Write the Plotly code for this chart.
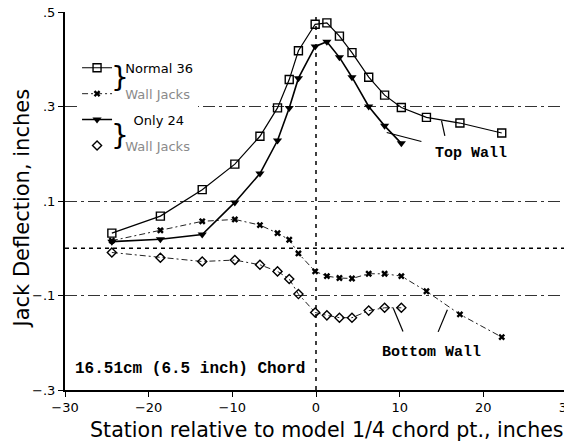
import plotly.graph_objects as go

# ---------------- data ----------------
stations = [-24.4, -18.6, -13.6, -9.7, -6.7, -4.6, -3.2, -2.1, -0.1, 1.3, 2.8,
            4.3, 6.3, 8.2, 10.2, 13.2, 17.2, 22.2]
stations_24 = stations[:15]

normal36_top = [0.032, 0.068, 0.124, 0.178, 0.237, 0.297, 0.357, 0.418, 0.474,
                0.477, 0.449, 0.414, 0.362, 0.324, 0.298, 0.277, 0.265, 0.244]
normal36_bottom = [0.016, 0.038, 0.057, 0.061, 0.049, 0.032, 0.018, -0.011, -0.049,
                   -0.059, -0.063, -0.064, -0.054, -0.054, -0.059, -0.091, -0.140, -0.188]
only24_top = [0.014, 0.019, 0.029, 0.097, 0.158, 0.228, 0.297, 0.360, 0.427,
              0.437, 0.404, 0.362, 0.300, 0.259, 0.222]
only24_bottom = [-0.009, -0.020, -0.028, -0.025, -0.035, -0.049, -0.065, -0.097, -0.136,
                 -0.142, -0.147, -0.147, -0.132, -0.126, -0.126]

x_ticks = [-30, -20, -10, 0, 10, 20, 30]
x_ticktext = ["\u221230", "\u221220", "\u221210", "0", "10", "20", "30"]
y_ticks = [-0.3, -0.1, 0.1, 0.3, 0.5]
y_ticktext = ["\u2212.3", "\u2212.1", ".1", ".3", ".5"]

# callout leader lines (x0, y0, x1, y1) in data units
top_wall_leaders = [(8.45, 0.245, 12.6, 0.226), (15.0, 0.270, 15.4, 0.238)]
bottom_wall_leaders = [(9.24, -0.127, 10.4, -0.176), (15.7, -0.130, 14.6, -0.177)]

SANS = "DejaVu Sans"
MONO = "Liberation Mono"
GRAY = "#8a8a8a"

fig = go.Figure()

fig.add_trace(go.Scatter(
    x=stations, y=normal36_top, mode="lines+markers",
    name="\u00a0\u00a0Normal 36", legendgroup="a",
    line=dict(color="black", width=1.2),
    marker=dict(symbol="square-open", size=8, color="black", line=dict(width=1.4)),
))
fig.add_trace(go.Scatter(
    x=stations, y=normal36_bottom, mode="lines+markers",
    name=f"\u00a0\u00a0<span style='color:{GRAY}'>Wall Jacks</span>", legendgroup="b",
    line=dict(color="#222", width=1, dash="6px,3px,2px,3px"),
    marker=dict(symbol="x", size=6, color="black"),
))
fig.add_trace(go.Scatter(
    x=stations_24, y=only24_top, mode="lines+markers",
    name="\u00a0\u00a0\u00a0\u00a0Only 24", legendgroup="c",
    line=dict(color="black", width=1.6),
    marker=dict(symbol="triangle-down", size=8, color="black"),
))
fig.add_trace(go.Scatter(
    x=stations_24, y=only24_bottom, mode="lines",
    showlegend=False, legendgroup="d",
    line=dict(color="#222", width=1, dash="6px,3px,2px,3px"),
))
fig.add_trace(go.Scatter(
    x=stations_24, y=only24_bottom, mode="markers",
    name=f"\u00a0\u00a0<span style='color:{GRAY}'>Wall Jacks</span>", legendgroup="d",
    marker=dict(symbol="diamond-open", size=7, color="black", line=dict(width=1.4)),
))

# reference lines at zero
fig.add_hline(y=0, line=dict(color="black", width=1.5, dash="4px,4px"), layer="below")
fig.add_vline(x=0, line=dict(color="black", width=1.5, dash="4px,5px"), layer="below")
# right frame
fig.add_shape(type="line", xref="paper", yref="paper", x0=1, x1=1, y0=0, y1=1,
              line=dict(color="black", width=1))

for (x0, y0, x1, y1) in top_wall_leaders + bottom_wall_leaders:
    fig.add_shape(type="line", x0=x0, y0=y0, x1=x1, y1=y1,
                  line=dict(color="black", width=1.2))

fig.add_annotation(x=18.5, y=0.20, text="<b>Top Wall</b>", showarrow=False,
                   xanchor="center", yanchor="middle",
                   font=dict(family=MONO, size=15, color="black"))
fig.add_annotation(x=13.8, y=-0.221, text="<b>Bottom Wall</b>", showarrow=False,
                   xanchor="center", yanchor="middle",
                   font=dict(family=MONO, size=15, color="black"))
fig.add_annotation(x=-15.05, y=-0.256, text="<b>16.51cm (6.5 inch) Chord</b>", showarrow=False,
                   xanchor="center", yanchor="middle",
                   font=dict(family=MONO, size=16, color="black"))

# legend braces
for yb in (0.826, 0.672):
    fig.add_annotation(xref="paper", yref="paper", x=0.109, y=yb, text="}",
                       xanchor="center", yanchor="middle",
                       showarrow=False, font=dict(family=SANS, size=28, color="black"))

# axis titles
fig.add_annotation(xref="paper", yref="paper", x=0.522, y=-0.105,
                   xanchor="center", yanchor="middle",
                   text="Station relative to model 1/4 chord pt., inches",
                   showarrow=False, font=dict(family=SANS, size=20.6, color="black"))
fig.add_annotation(xref="paper", yref="paper", x=-0.0857, y=0.48, textangle=-90,
                   xanchor="center", yanchor="middle",
                   text="Jack Deflection, inches",
                   showarrow=False, font=dict(family=SANS, size=21, color="black"))

# the page places the figure 8px in from the window's top-left corner
fig.update_layout(
    width=564, height=434,
    margin=dict(l=57, r=5, t=4, b=52, autoexpand=False),
    paper_bgcolor="white", plot_bgcolor="white",
    font=dict(family=SANS, size=13, color="black"),
    showlegend=True,
    legend=dict(x=0.024, y=0.892, xanchor="left", yanchor="top",
                bgcolor="white", borderwidth=0, tracegroupgap=6,
                traceorder="grouped", font=dict(family=SANS, size=13, color="black"),
                itemwidth=30),
    xaxis=dict(range=[-30, 30], tickvals=x_ticks, ticktext=x_ticktext,
               showgrid=False, zeroline=False, showline=True, linecolor="black",
               linewidth=1.5, ticks="outside", ticklen=5, tickcolor="black",
               tickfont=dict(size=13), automargin=False, ticklabeloverflow="allow"),
    yaxis=dict(range=[-0.3, 0.5], tickvals=y_ticks, ticktext=y_ticktext,
               showgrid=True, gridcolor="#333", gridwidth=1, griddash="12px,4px,3px,4px",
               zeroline=False, showline=True, linecolor="black", linewidth=2,
               ticks="outside", ticklen=5, tickcolor="black",
               tickfont=dict(size=13), automargin=False, ticklabeloverflow="allow"),
)

fig.write_html("out.html")
